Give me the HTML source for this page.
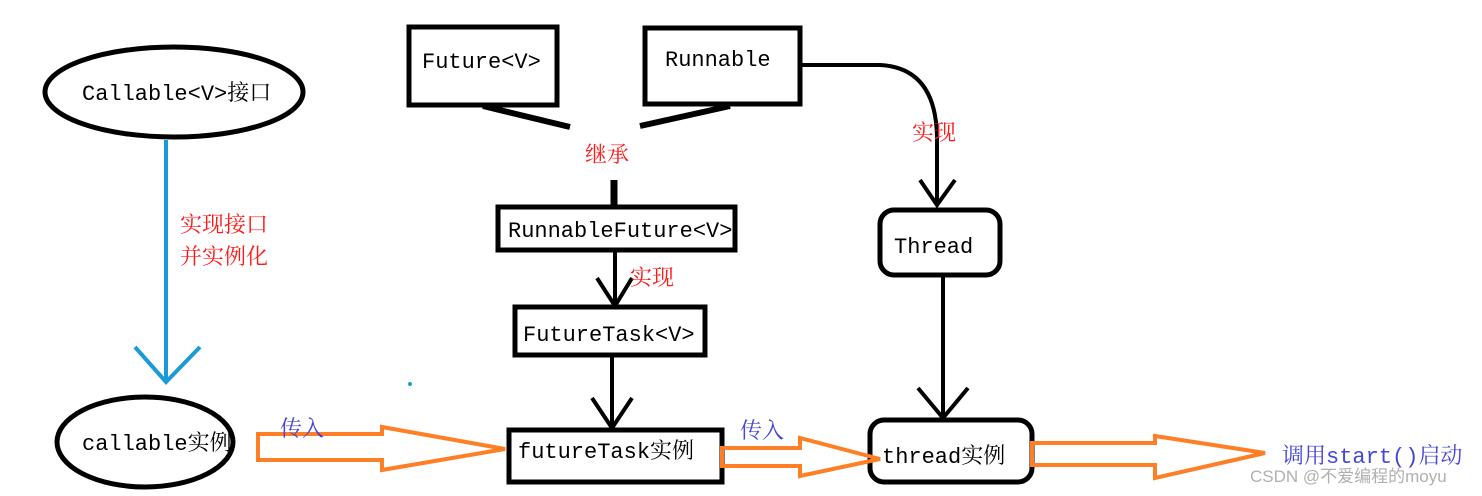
<!DOCTYPE html>
<html><head><meta charset="utf-8"><style>
html,body{margin:0;padding:0;background:#fff;}
svg{display:block;}
text{font-family:"Liberation Mono","Noto Serif CJK SC",monospace;font-size:22px;fill:#000;}
.r{fill:#ff1a1a;font-family:"Liberation Serif","Noto Serif CJK SC",serif;font-size:22px;}
.b{fill:#4646d8;font-family:"Liberation Mono","Noto Serif CJK SC",monospace;font-size:22px;}
</style></head><body>
<svg width="1482" height="496" viewBox="0 0 1482 496" xmlns="http://www.w3.org/2000/svg">
<g fill="none" stroke="#000" stroke-width="5">
<ellipse cx="174" cy="92" rx="129" ry="45"/>
<ellipse cx="145" cy="442" rx="88" ry="45"/>
<rect x="409" y="27" width="148" height="78"/>
<rect x="645" y="28" width="155" height="76"/>
<rect x="498" y="207" width="237" height="43"/>
<rect x="515" y="307" width="190" height="48"/>
<rect x="509" y="430" width="213" height="52"/>
<rect x="880" y="210" width="120" height="65" rx="14"/>
<rect x="870" y="420" width="162" height="62" rx="14"/>
</g>
<g fill="none" stroke="#000" stroke-width="4">
<path d="M615 250 V306 M597 278 L615 306 L632 278"/>
<path d="M612 355 V428 M592 398 L612 428 L632 398"/>
<path d="M800 65 H880 Q937 68 937 140 V205 M920 180 L937 205 L955 180"/>
<path d="M943 275 V418 M918 388 L943 418 L968 388"/>
</g>
<path d="M483 106 L570 127" stroke="#000" stroke-width="6"/>
<path d="M730 106 L640 126" stroke="#000" stroke-width="6"/>
<path d="M614 180 V207" stroke="#000" stroke-width="7"/>
<g fill="none" stroke="#1a9ad6" stroke-width="4">
<path d="M166 140 V382 M135 347 L166 382 L200 347"/>
</g>
<circle cx="410" cy="384" r="2" fill="#1a9ad6"/>
<g fill="none" stroke="#ff7f27" stroke-width="4">
<path d="M258 434 H382 V427 L505 449 L382 470 V460 H258 Z"/>
<path d="M722 448 H800 V438 L880 459 L800 476 V466 H722 Z"/>
<path d="M1032 443 H1155 V436 L1265 453 L1155 478 V465 H1032 Z"/>
</g>
<text x="82" y="100">Callable&lt;V&gt;接口</text>
<text x="422" y="68">Future&lt;V&gt;</text>
<text x="665" y="66">Runnable</text>
<text x="508" y="237">RunnableFuture&lt;V&gt;</text>
<text x="523" y="341">FutureTask&lt;V&gt;</text>
<text x="894" y="253">Thread</text>
<text x="82" y="450">callable实例</text>
<text x="518" y="458">futureTask实例</text>
<text x="882" y="463">thread实例</text>
<text class="r" x="585" y="162">继承</text>
<text class="r" x="630" y="285">实现</text>
<text class="r" x="912" y="140">实现</text>
<text class="r" x="180" y="232">实现接口</text>
<text class="r" x="180" y="264">并实例化</text>
<text class="b" x="280" y="436">传入</text>
<text class="b" x="740" y="438">传入</text>
<text class="b" x="1282" y="463">调用start()启动</text>
<text x="1250" y="482" style="font-family:'Liberation Sans','Noto Sans CJK SC',sans-serif;font-size:17px;fill:#b0b0b0">CSDN @不爱编程的moyu</text>
</svg>
</body></html>
